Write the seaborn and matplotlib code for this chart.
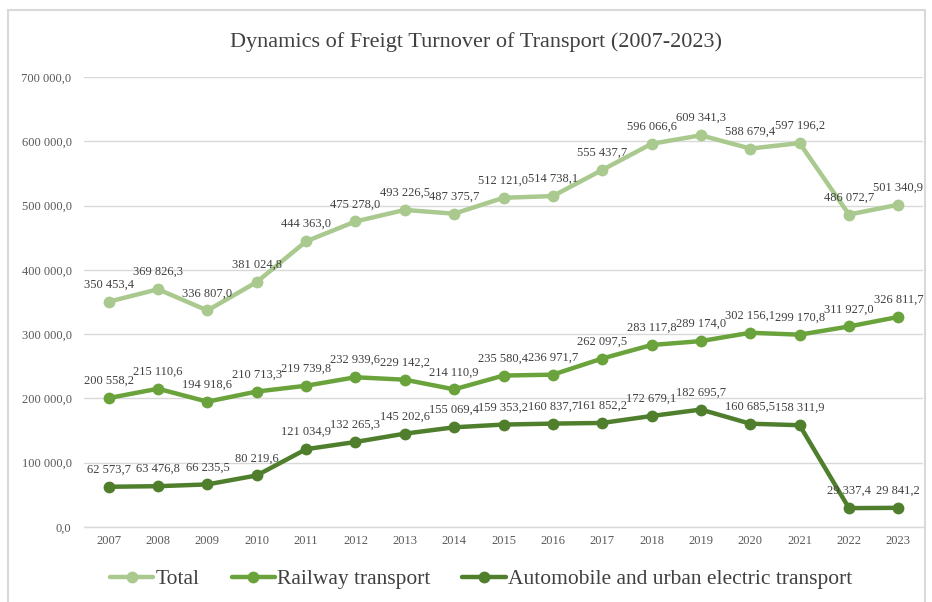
import matplotlib
matplotlib.use("Agg")
import matplotlib.pyplot as plt
import seaborn as sns
import pandas as pd
from matplotlib.patches import Rectangle

years = list(range(2007, 2024))
total = [350453.4, 369826.3, 336807.0, 381024.8, 444363.0, 475278.0, 493226.5, 487375.7,
         512121.0, 514738.1, 555437.7, 596066.6, 609341.3, 588679.4, 597196.2, 486072.7, 501340.9]
railway = [200558.2, 215110.6, 194918.6, 210713.3, 219739.8, 232939.6, 229142.2, 214110.9,
           235580.4, 236971.7, 262097.5, 283117.8, 289174.0, 302156.1, 299170.8, 311927.0, 326811.7]
auto = [62573.7, 63476.8, 66235.5, 80219.6, 121034.9, 132265.3, 145202.6, 155069.4,
        159353.2, 160837.7, 161852.2, 172679.1, 182695.7, 160685.5, 158311.9, 29337.4, 29841.2]
series_names = ["Total", "Railway transport", "Automobile and urban electric transport"]
yticks = [0, 100000, 200000, 300000, 400000, 500000, 600000, 700000]
title = "Dynamics of Freigt Turnover of Transport (2007-2023)"

colors = ["#A9C98F", "#6AA33B", "#4F7F2D"]

df = pd.concat([
    pd.DataFrame({"Year": years, "Value": vals, "Series": name})
    for name, vals in zip(series_names, [total, railway, auto])
])

def fmt(v):
    return f"{v:,.1f}".replace(",", " ").replace(".", ",")

sns.set_theme(style="white")
plt.rcParams["font.family"] = ["Liberation Serif", "DejaVu Serif"]

fig = plt.figure(figsize=(9.32, 6.02), dpi=100)
ax = fig.add_axes([84 / 932, 1 - 527 / 602, (923 - 84) / 932, (527 - 77) / 602])

sns.lineplot(data=df, x="Year", y="Value", hue="Series", palette=colors,
             hue_order=series_names, marker="o", markersize=8.5, markeredgewidth=0,
             linewidth=3.2, ax=ax, legend=True)

for name, vals in zip(series_names, [total, railway, auto]):
    for x, v in zip(years, vals):
        ax.annotate(fmt(v), (x, v), xytext=(0, 8), textcoords="offset points",
                    ha="center", va="bottom", fontsize=9, color="#404040")

ax.set_xlim(2006.5, 2023.5)
ax.set_ylim(0, 700000)
ax.set_yticks(yticks)
ax.set_yticklabels([fmt(t) for t in yticks], fontsize=9, color="#595959")
ax.set_xticks(years)
ax.set_xticklabels([str(y) for y in years], fontsize=9, color="#595959")
ax.tick_params(axis="y", length=0, pad=9)
ax.tick_params(axis="x", length=0, pad=6)
ax.set_xlabel("")
ax.set_ylabel("")
ax.grid(axis="y", color="#D9D9D9", linewidth=1)
ax.set_axisbelow(True)
for s in ["left", "right", "top"]:
    ax.spines[s].set_visible(False)
ax.spines["bottom"].set_color("#D9D9D9")
ax.spines["bottom"].set_linewidth(1)

leg = ax.legend(loc="center", bbox_to_anchor=(481 / 932, 1 - 579 / 602),
                bbox_transform=fig.transFigure, ncol=3, frameon=False,
                fontsize=15.5, handlelength=2.0, handletextpad=0.1, columnspacing=1.5,
                labelcolor="#404040")

fig.text(476 / 932, 1 - 42 / 602, title, ha="center", va="center",
         fontsize=16, color="#404040")

fig.patches.append(Rectangle((8 / 932, -0.05), (925 - 8) / 932, (1 - 10 / 602) + 0.05,
                             transform=fig.transFigure, fill=False,
                             edgecolor="#D9D9D9", linewidth=1.5))

fig.savefig("out.png", dpi=100)
